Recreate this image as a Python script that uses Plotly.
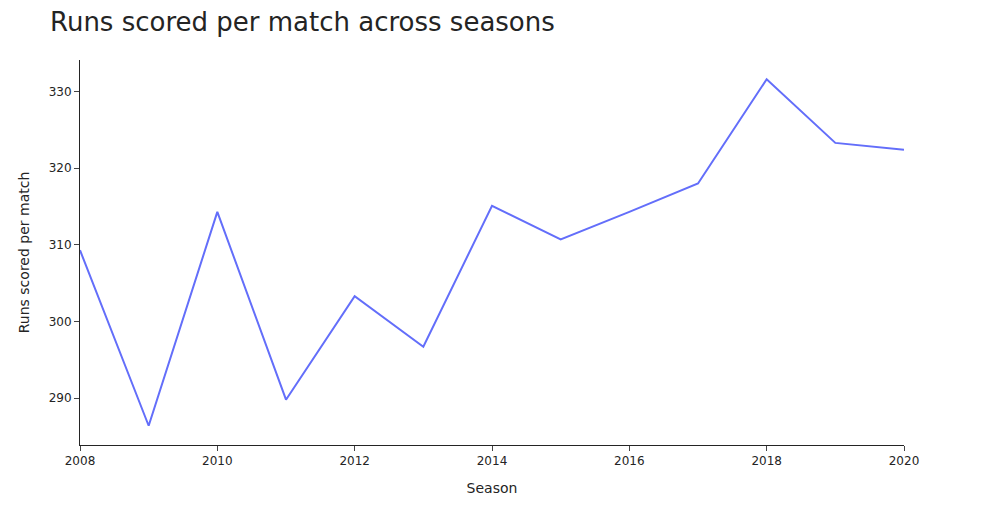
import plotly.graph_objects as go

seasons = [2008, 2009, 2010, 2011, 2012, 2013, 2014, 2015, 2016, 2017, 2018, 2019, 2020]
runs_per_match = [309.3, 286.4, 314.3, 289.8, 303.3, 296.7, 315.1, 310.7, 314.3, 318.0, 331.6, 323.3, 322.4]

fig = go.Figure()
fig.add_trace(go.Scatter(x=seasons, y=runs_per_match, mode='lines',
                         line=dict(color='#636efa', width=2)))

# page body adds 8px, so the figure is sized/margined to compensate
fig.update_layout(
    template='simple_white',
    font=dict(family='DejaVu Sans'),
    title=dict(text='Runs scored per match across seasons', font=dict(size=26),
               x=42/975, xanchor='left', y=1 - 14/517, yanchor='middle'),
    xaxis=dict(title='Season'),
    yaxis=dict(title='Runs scored per match'),
    width=975,
    height=517,
    margin=dict(l=72, r=79, t=52, b=80),
    showlegend=False,
)

fig.write_html("out.html")
